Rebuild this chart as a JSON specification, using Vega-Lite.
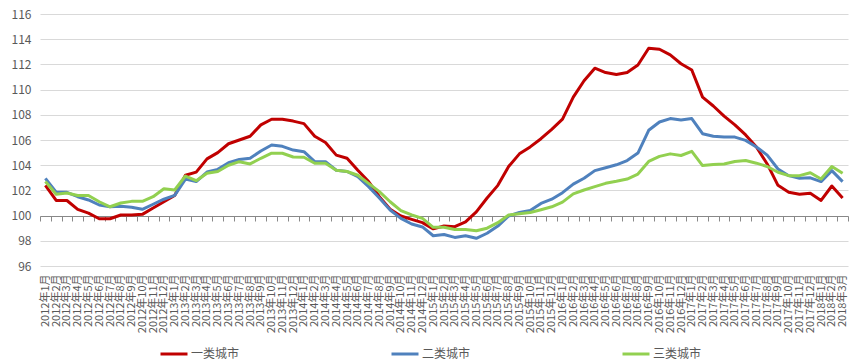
{
  "$schema": "https://vega.github.io/schema/vega-lite/v6.json",
  "autosize": "none",
  "width": 808,
  "height": 252,
  "padding": {"left": 40, "top": 14, "right": 11, "bottom": 98},
  "background": "white",
  "data": {"values": [
    {"月份":"2012年1月","一类城市":102.4,"二类城市":102.96,"三类城市":102.7},
    {"月份":"2012年2月","一类城市":101.2,"二类城市":101.85,"三类城市":101.7},
    {"月份":"2012年3月","一类城市":101.2,"二类城市":101.85,"三类城市":101.8},
    {"月份":"2012年4月","一类城市":100.5,"二类城市":101.5,"三类城市":101.6},
    {"月份":"2012年5月","一类城市":100.2,"二类城市":101.24,"三类城市":101.6},
    {"月份":"2012年6月","一类城市":99.75,"二类城市":100.84,"三类城市":101.1},
    {"月份":"2012年7月","一类城市":99.75,"二类城市":100.7,"三类城市":100.7},
    {"月份":"2012年8月","一类城市":100.05,"二类城市":100.75,"三类城市":101.0},
    {"月份":"2012年9月","一类城市":100.05,"二类城市":100.67,"三类城市":101.13},
    {"月份":"2012年10月","一类城市":100.1,"二类城市":100.5,"三类城市":101.13},
    {"月份":"2012年11月","一类城市":100.6,"二类城市":100.9,"三类城市":101.5},
    {"月份":"2012年12月","一类城市":101.1,"二类城市":101.3,"三类城市":102.13},
    {"月份":"2013年1月","一类城市":101.6,"二类城市":101.6,"三类城市":102.03},
    {"月份":"2013年2月","一类城市":103.2,"二类城市":102.9,"三类城市":103.14},
    {"月份":"2013年3月","一类城市":103.45,"二类城市":102.7,"三类城市":102.77},
    {"月份":"2013年4月","一类城市":104.5,"二类城市":103.46,"三类城市":103.36},
    {"月份":"2013年5月","一类城市":105.0,"二类城市":103.67,"三类城市":103.5},
    {"月份":"2013年6月","一类城市":105.7,"二类城市":104.2,"三类城市":104.0},
    {"月份":"2013年7月","一类城市":106.0,"二类城市":104.46,"三类城市":104.28},
    {"月份":"2013年8月","一类城市":106.3,"二类城市":104.55,"三类城市":104.1},
    {"月份":"2013年9月","一类城市":107.2,"二类城市":105.13,"三类城市":104.55},
    {"月份":"2013年10月","一类城市":107.65,"二类城市":105.6,"三类城市":104.95},
    {"月份":"2013年11月","一类城市":107.65,"二类城市":105.5,"三类城市":104.95},
    {"月份":"2013年12月","一类城市":107.5,"二类城市":105.2,"三类城市":104.65},
    {"月份":"2014年1月","一类城市":107.3,"二类城市":105.07,"三类城市":104.63},
    {"月份":"2014年2月","一类城市":106.3,"二类城市":104.28,"三类城市":104.15},
    {"月份":"2014年3月","一类城市":105.8,"二类城市":104.28,"三类城市":104.15},
    {"月份":"2014年4月","一类城市":104.8,"二类城市":103.6,"三类城市":103.6},
    {"月份":"2014年5月","一类城市":104.55,"二类城市":103.5,"三类城市":103.5},
    {"月份":"2014年6月","一类城市":103.6,"二类城市":103.1,"三类城市":103.2},
    {"月份":"2014年7月","一类城市":102.7,"二类城市":102.3,"三类城市":102.56},
    {"月份":"2014年8月","一类城市":101.5,"二类城市":101.4,"三类城市":101.9},
    {"月份":"2014年9月","一类城市":100.5,"二类城市":100.44,"三类城市":101.1},
    {"月份":"2014年10月","一类城市":99.97,"二类城市":99.78,"三类城市":100.4},
    {"月份":"2014年11月","一类城市":99.7,"二类城市":99.33,"三类城市":100.05},
    {"月份":"2014年12月","一类城市":99.44,"二类城市":99.1,"三类城市":99.78},
    {"月份":"2015年1月","一类城市":98.95,"二类城市":98.4,"三类城市":99.07},
    {"月份":"2015年2月","一类城市":99.17,"二类城市":98.5,"三类城市":99.07},
    {"月份":"2015年3月","一类城市":99.12,"二类城市":98.27,"三类城市":98.9},
    {"月份":"2015年4月","一类城市":99.5,"二类城市":98.4,"三类城市":98.9},
    {"月份":"2015年5月","一类城市":100.3,"二类城市":98.2,"三类城市":98.8},
    {"月份":"2015年6月","一类城市":101.4,"二类城市":98.6,"三类城市":99.0},
    {"月份":"2015年7月","一类城市":102.4,"二类城市":99.17,"三类城市":99.44},
    {"月份":"2015年8月","一类城市":103.9,"二类城市":99.97,"三类城市":100.05},
    {"月份":"2015年9月","一类城市":104.9,"二类城市":100.25,"三类城市":100.15},
    {"月份":"2015年10月","一类城市":105.45,"二类城市":100.4,"三类城市":100.25},
    {"月份":"2015年11月","一类城市":106.1,"二类城市":100.97,"三类城市":100.47},
    {"月份":"2015年12月","一类城市":106.85,"二类城市":101.3,"三类城市":100.7},
    {"月份":"2016年1月","一类城市":107.65,"二类城市":101.82,"三类城市":101.07},
    {"月份":"2016年2月","一类城市":109.4,"二类城市":102.5,"三类城市":101.72},
    {"月份":"2016年3月","一类城市":110.7,"二类城市":102.96,"三类城市":102.03},
    {"月份":"2016年4月","一类城市":111.7,"二类城市":103.57,"三类城市":102.3},
    {"月份":"2016年5月","一类城市":111.35,"二类城市":103.8,"三类城市":102.56},
    {"月份":"2016年6月","一类城市":111.2,"二类城市":104.03,"三类城市":102.72},
    {"月份":"2016年7月","一类城市":111.35,"二类城市":104.37,"三类城市":102.9},
    {"月份":"2016年8月","一类城市":111.95,"二类城市":104.96,"三类城市":103.3},
    {"月份":"2016年9月","一类城市":113.28,"二类城市":106.77,"三类城市":104.3},
    {"月份":"2016年10月","一类城市":113.2,"二类城市":107.43,"三类城市":104.7},
    {"月份":"2016年11月","一类城市":112.75,"二类城市":107.7,"三类城市":104.9},
    {"月份":"2016年12月","一类城市":112.05,"二类城市":107.58,"三类城市":104.77},
    {"月份":"2017年1月","一类城市":111.55,"二类城市":107.7,"三类城市":105.1},
    {"月份":"2017年2月","一类城市":109.4,"二类城市":106.5,"三类城市":103.97},
    {"月份":"2017年3月","一类城市":108.7,"二类城市":106.3,"三类城市":104.05},
    {"月份":"2017年4月","一类城市":107.9,"二类城市":106.23,"三类城市":104.1},
    {"月份":"2017年5月","一类城市":107.2,"二类城市":106.23,"三类城市":104.3},
    {"月份":"2017年6月","一类城市":106.4,"二类城市":105.97,"三类城市":104.37},
    {"月份":"2017年7月","一类城市":105.44,"二类城市":105.44,"三类城市":104.16},
    {"月份":"2017年8月","一类城市":104.1,"二类城市":104.8,"三类城市":103.9},
    {"月份":"2017年9月","一类城市":102.4,"二类城市":103.7,"三类城市":103.44},
    {"月份":"2017年10月","一类城市":101.85,"二类城市":103.17,"三类城市":103.17},
    {"月份":"2017年11月","一类城市":101.7,"二类城市":102.96,"三类城市":103.17},
    {"月份":"2017年12月","一类城市":101.77,"二类城市":103.0,"三类城市":103.4},
    {"月份":"2018年1月","一类城市":101.2,"二类城市":102.7,"三类城市":102.9},
    {"月份":"2018年2月","一类城市":102.35,"二类城市":103.57,"三类城市":103.9},
    {"月份":"2018年3月","一类城市":101.4,"二类城市":102.7,"三类城市":103.36}
  ]},
  "transform": [
    {"fold": ["一类城市", "二类城市", "三类城市"], "as": ["类别", "指数"]}
  ],
  "mark": {"type": "line", "strokeWidth": 3, "strokeJoin": "round"},
  "encoding": {
    "x": {
      "field": "月份",
      "type": "ordinal",
      "sort": null,
      "scale": {"type": "band", "paddingInner": 0, "paddingOuter": 0},
      "axis": {
        "title": null,
        "offset": -50,
        "domain": true,
        "domainColor": "#888888",
        "ticks": true,
        "tickBand": "extent",
        "tickSize": 5,
        "tickColor": "#888888",
        "grid": false,
        "labelAngle": 270,
        "labelPadding": 53,
        "labelFontSize": 11,
        "labelColor": "#595959",
        "labelFont": "Noto Sans CJK SC",
        "labelOverlap": false,
        "labelBound": false
      }
    },
    "y": {
      "field": "指数",
      "type": "quantitative",
      "scale": {"domain": [96, 116], "nice": false, "zero": false},
      "axis": {
        "title": null,
        "values": [96, 98, 100, 102, 104, 106, 108, 110, 112, 114, 116],
        "domain": false,
        "ticks": false,
        "grid": true,
        "gridColor": "#d9d9d9",
        "labelPadding": 9,
        "labelFontSize": 12,
        "labelColor": "#595959",
        "labelFont": "Noto Sans CJK SC"
      }
    },
    "color": {
      "field": "类别",
      "type": "nominal",
      "scale": {
        "domain": ["一类城市", "二类城市", "三类城市"],
        "range": ["#C00000", "#4F81BD", "#92D050"]
      },
      "legend": {
        "title": null,
        "orient": "none",
        "direction": "horizontal",
        "legendX": 119,
        "legendY": 325,
        "symbolType": "stroke",
        "symbolSize": 729,
        "symbolStrokeWidth": 3,
        "labelOffset": 2,
        "labelFontSize": 12,
        "labelColor": "#595959",
        "labelFont": "Noto Sans CJK SC",
        "columnPadding": 145
      }
    }
  },
  "config": {
    "view": {"stroke": null}
  }
}
